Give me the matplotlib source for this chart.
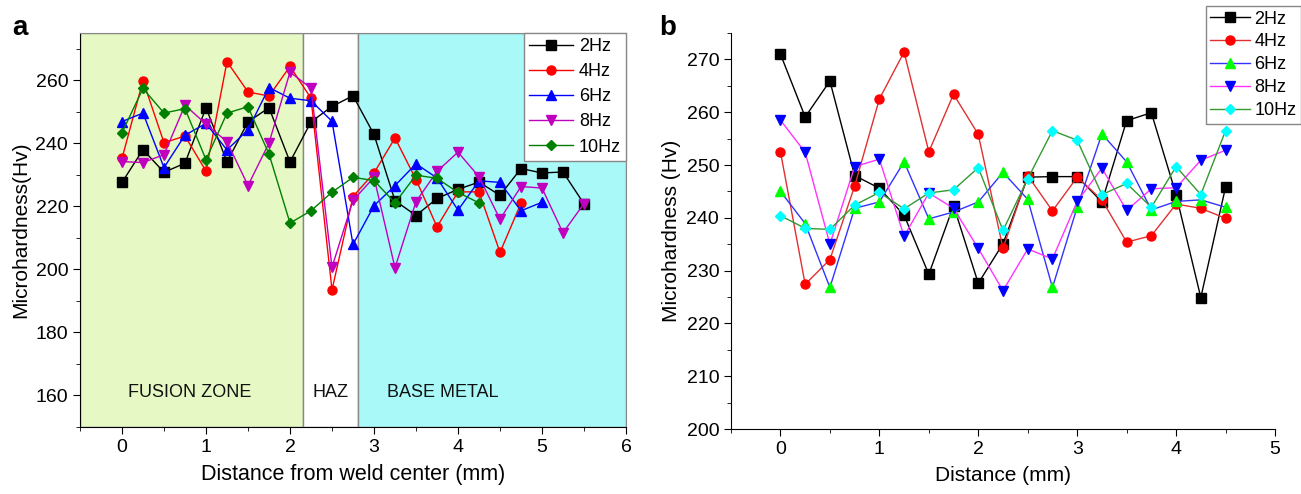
import matplotlib
matplotlib.use("Agg")
import matplotlib.pyplot as plt
from matplotlib.ticker import MultipleLocator
from matplotlib.patches import Rectangle

plt.rcParams['font.family'] = ['Liberation Sans', 'DejaVu Sans']

# ---------------- Panel a data ----------------
xa = [0, 0.25, 0.5, 0.75, 1.0, 1.25, 1.5, 1.75, 2.0, 2.25, 2.5, 2.75,
      3.0, 3.25, 3.5, 3.75, 4.0, 4.25, 4.5, 4.75, 5.0, 5.25, 5.5]
a_2hz = [227.6, 238.0, 230.8, 233.7, 251.3, 234.1, 246.8, 251.3, 234.1, 246.8, 251.7, 255.1,
         242.8, 221.8, 217.1, 222.5, 225.4, 227.7, 223.5, 232.0, 230.6, 230.9, 220.8]
a_4hz = [235.2, 259.9, 240.2, 242.3, 231.2, 265.9, 256.3, 255.0, 264.4, 254.3, 193.5, 223.1,
         230.6, 241.7, 228.5, 213.5, 224.6, 224.6, 205.4, 221.0]
a_6hz = [246.9, 249.6, 232.3, 242.6, 246.3, 237.9, 244.3, 257.7, 254.3, 253.5, 247.0, 207.9,
         220.2, 226.6, 233.5, 229.0, 218.8, 228.1, 227.6, 218.6, 221.3]
a_8hz = [234.2, 233.9, 236.4, 252.1, 246.1, 240.5, 226.6, 240.1, 262.6, 257.5, 200.7, 221.9,
         229.2, 200.5, 221.5, 231.1, 237.2, 229.4, 215.9, 226.3, 225.8, 211.6, 220.9]
a_10hz = [243.4, 257.4, 249.6, 251.0, 234.8, 249.6, 251.6, 236.6, 214.7, 218.6, 224.5, 229.2,
          228.2, 221.1, 229.9, 228.9, 224.4, 221.1]

# ---------------- Panel b data ----------------
xb = [0, 0.25, 0.5, 0.75, 1.0, 1.25, 1.5, 1.75, 2.0, 2.25, 2.5, 2.75,
      3.0, 3.25, 3.5, 3.75, 4.0, 4.25, 4.5]
b_2hz = [271.0, 259.1, 265.9, 248.0, 245.6, 240.5, 229.3, 242.3, 227.6, 235.1, 247.7, 247.8,
         247.8, 243.0, 258.4, 259.9, 244.4, 224.9, 245.8]
b_4hz = [252.5, 227.4, 232.1, 246.0, 262.5, 271.4, 252.5, 263.4, 255.8, 234.2, 248.0, 241.3,
         247.7, 243.4, 235.4, 236.6, 242.6, 241.8, 239.9]
b_6hz = [245.0, 238.9, 226.8, 241.8, 243.0, 250.6, 239.8, 241.1, 243.0, 248.6, 243.5, 226.8,
         242.0, 255.9, 250.6, 241.5, 243.1, 243.4, 242.0]
b_8hz = [258.5, 252.4, 235.0, 249.7, 251.1, 236.5, 244.7, 241.8, 234.2, 226.2, 234.1, 232.2,
         243.1, 249.4, 241.4, 245.5, 245.7, 250.9, 252.8]
b_10hz = [240.4, 238.0, 237.8, 242.4, 244.8, 241.7, 244.7, 245.3, 249.5, 237.6, 247.4, 256.5,
          254.7, 244.4, 246.5, 242.0, 249.7, 244.4, 256.5]

labels = ['2Hz', '4Hz', '6Hz', '8Hz', '10Hz']
zones = ['FUSION ZONE', 'HAZ', 'BASE METAL']
zone_edges = [-0.5, 2.16, 2.81, 6.0]

fig = plt.figure(figsize=(13.01, 4.94), dpi=100)
axa = fig.add_axes([80/1301, (494-427)/494, 546/1301, 394/494])
axb = fig.add_axes([731/1301, (494-429)/494, 544/1301, 396/494])

# ---- Panel a ----
axa.set_xlim(-0.5, 6)
axa.set_ylim(150, 275)
zone_colors = ['#e6f9c4', '#ffffff', '#aaf9f9']
for i in range(3):
    axa.add_patch(Rectangle((zone_edges[i], 150), zone_edges[i+1]-zone_edges[i], 125,
                            facecolor=zone_colors[i], edgecolor='#888888', lw=1.0, zorder=0))
zone_x = [0.81, 2.48, 3.82]
for zx, zt in zip(zone_x, zones):
    axa.text(zx, 161, zt, ha='center', va='center', fontsize=13, color='#111111')

sty_a = [('k', 's', 'k'), ('r', 'o', 'r'), ('b', '^', 'b'), ('m', 'v', 'm'), ('#007f00', 'D', '#007f00')]
series_a = [a_2hz, a_4hz, a_6hz, a_8hz, a_10hz]
for ys, (lc, mk, mc), lab in zip(series_a, sty_a, labels):
    axa.plot(xa[:len(ys)], ys, color=lc, marker=mk, markerfacecolor=mc, markeredgecolor=mc,
             markersize=6.5 if mk != 'D' else 5.5, lw=1.0, label=lab)

axa.xaxis.set_major_locator(MultipleLocator(1))
axa.xaxis.set_minor_locator(MultipleLocator(0.5))
axa.yaxis.set_major_locator(MultipleLocator(20))
axa.yaxis.set_minor_locator(MultipleLocator(10))
axa.set_yticks([160, 180, 200, 220, 240, 260])
axa.tick_params(which='both', direction='out', labelsize=14)
axa.tick_params(which='major', length=5)
axa.tick_params(which='minor', length=3)
for s in ['top', 'right']:
    axa.spines[s].set_color('#888888')
axa.set_xlabel('Distance from weld center (mm)', fontsize=15.5, labelpad=6)
axa.set_ylabel('Microhardness(Hv)', fontsize=15, labelpad=4)
leg = axa.legend(loc='upper right', borderaxespad=0, fontsize=13, frameon=True, fancybox=False,
                 edgecolor='#888888', framealpha=1, handlelength=2.4, labelspacing=0.45,
                 handletextpad=0.35, borderpad=0.28)
leg.get_frame().set_linewidth(1.0)
fig.text(20/1301, 1-28/494, 'a', fontsize=20, fontweight='bold', ha='center', va='center')

# ---- Panel b ----
axb.set_xlim(-0.5, 5)
axb.set_ylim(200, 275)
sty_b = [('k', 's', 'k'), ('#e03030', 'o', 'r'), ('#3333ff', '^', '#00ff00'),
         ('#ff33ff', 'v', '#0000ff'), ('#339933', 'D', '#00ffff')]
series_b = [b_2hz, b_4hz, b_6hz, b_8hz, b_10hz]
for ys, (lc, mk, mc), lab in zip(series_b, sty_b, labels):
    axb.plot(xb[:len(ys)], ys, color=lc, marker=mk, markerfacecolor=mc, markeredgecolor=mc,
             markersize=6.5 if mk != 'D' else 5.5, lw=1.0, label=lab)
axb.xaxis.set_major_locator(MultipleLocator(1))
axb.xaxis.set_minor_locator(MultipleLocator(0.5))
axb.yaxis.set_major_locator(MultipleLocator(10))
axb.yaxis.set_minor_locator(MultipleLocator(5))
axb.set_yticks([200, 210, 220, 230, 240, 250, 260, 270])
axb.spines['top'].set_visible(False)
axb.spines['right'].set_visible(False)
axb.tick_params(which='both', direction='out', labelsize=14)
axb.tick_params(which='major', length=5)
axb.tick_params(which='minor', length=3)
axb.set_xlabel('Distance (mm)', fontsize=15, labelpad=6)
axb.set_ylabel('Microhardness (Hv)', fontsize=15, labelpad=4)
legb = axb.legend(loc='upper right', bbox_to_anchor=(1.0, 1 - 6/494), bbox_transform=fig.transFigure,
                  borderaxespad=0, fontsize=13, frameon=True, fancybox=False,
                  edgecolor='#888888', framealpha=1, handlelength=2.2, labelspacing=0.33,
                  handletextpad=0.25, borderpad=0.25)
legb.get_frame().set_linewidth(1.0)
fig.text(668/1301, 1-28/494, 'b', fontsize=20, fontweight='bold', ha='center', va='center')

fig.savefig('out.png', dpi=100)
